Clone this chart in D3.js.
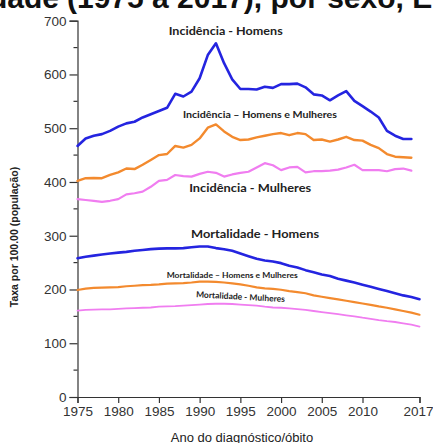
<!DOCTYPE html>
<html>
<head>
<meta charset="utf-8">
<script src="https://cdn.jsdelivr.net/npm/d3@7"></script>
<style>
  html, body { margin: 0; padding: 0; background: #fff; overflow: hidden; }
  svg { display: block; }
</style>
</head>
<body>
<svg id="chart" width="433" height="443"></svg>
<script>
// Years covered by each group of series
const incYears = d3.range(1975, 2017);   // 1975–2016
const morYears = d3.range(1975, 2018);   // 1975–2017

// Incidence rates per 100,000
const incMen = [467, 481, 486, 489, 495, 503, 509, 512, 520, 526,
                532, 538, 564, 559, 568, 593, 636, 658, 621, 591,
                573, 573, 572, 577, 575, 582, 582, 583, 576, 563,
                561, 552, 561, 569, 551, 541, 531, 520, 495, 486,
                480, 480];
const incBoth = [402, 407, 407.5, 407, 413, 418, 425, 424, 432, 441,
                 450, 452, 467, 464, 469, 481, 501, 507, 494, 484,
                 478, 479, 483, 486, 489, 491, 487, 491, 489, 478,
                 479, 475, 479, 484, 478, 477, 469, 463, 452, 447,
                 446, 445];
const incWomen = [368, 366.5, 365, 363, 365, 368, 377, 379, 382, 391,
                  402, 404, 413, 411, 410, 415, 419, 417, 410, 414,
                  417, 419, 427, 435, 431, 422, 427, 428, 418, 420,
                  420, 421, 423, 427, 432, 422, 422, 422, 420, 424,
                  425, 421];

// Mortality rates per 100,000
const morMen = [258, 261, 263, 265, 267, 268.5, 270, 272, 273.5, 275,
                276, 276.5, 276.5, 277, 278.5, 280, 280, 277, 275, 272,
                267, 262, 257, 254, 252, 249, 244, 241, 236, 232,
                228, 225, 220, 216.5, 213, 209, 205, 201, 197, 193,
                189, 186, 182];
const morBoth = [199, 201.5, 203, 203.5, 204, 204.5, 206, 207, 208, 208.5,
                 209.5, 211, 211.5, 212, 213, 214.5, 214.5, 214, 213, 211.5,
                 209.5, 207, 204, 202, 201, 199.5, 197, 195, 193, 189,
                 186.5, 184, 181.5, 179, 176.5, 174, 171.5, 168.5, 166, 163,
                 160, 157, 153];
const morWomen = [160.5, 162, 162.5, 163, 163, 164, 165, 165.5, 166, 166.5,
                  168, 168.5, 169, 170, 171, 172, 173, 173.5, 173.5, 173,
                  172, 171, 170, 168, 166.5, 166, 165, 163.5, 162, 160,
                  158, 156, 154, 152, 150, 147.5, 145.5, 143, 141, 139.5,
                  137, 134.5, 131];

// Axis ticks
const xTicks = [1975, 1980, 1985, 1990, 1995, 2000, 2005, 2010, 2017];
const yTicks = [0, 100, 200, 300, 400, 500, 600, 700];
const yMinorTicks = [50, 150, 250, 350, 450, 550, 650];

// Texts
const titleLead = "Taxa de incidência e mortalidade";
const titleTail = "(1975 a 2017), por sexo, EUA";
const yTitle = "Taxa por 100.00 (população)";
const xTitle = "Ano do diagnóstico/óbito";
const seriesNames = ["Incidência - Homens", "Incidência – Homens e Mulheres", "Incidência - Mulheres",
                     "Mortalidade - Homens", "Mortalidade – Homens e Mulheres", "Mortalidade - Mulheres"];

// ---- drawing ----
const svg = d3.select("#chart");
const x = d3.scaleLinear().domain([1975, 2017]).range([77.5, 419.5]);
const y = d3.scaleLinear().domain([0, 700]).range([397, 20.7]);

const blue = "#2424e0", orange = "#f38a2e", pink = "#f07df0";
const sans = "Liberation Sans, Arial, sans-serif";

// Title, mostly running off the top edge
svg.append("text")
  .attr("x", 59).attr("y", 7.5)
  .attr("text-anchor", "end")
  .attr("font-family", sans)
  .attr("font-weight", "bold").attr("font-size", 30).attr("fill", "#111")
  .text(titleLead);
svg.append("text")
  .attr("x", 67).attr("y", 7.5)
  .attr("font-family", sans)
  .attr("font-weight", "bold").attr("font-size", 30).attr("fill", "#111")
  .text(titleTail);

// Axes
const axisColor = "#333";
const gx = svg.append("g").attr("transform", `translate(0,${y(0)})`)
  .call(d3.axisBottom(x).tickValues(xTicks).tickFormat(d3.format("d")).tickSize(6).tickSizeOuter(6).tickPadding(3));
const gy = svg.append("g").attr("transform", `translate(${x(1975)},0)`)
  .call(d3.axisLeft(y).tickValues(yTicks).tickSize(8).tickSizeOuter(8).tickPadding(3));
gy.selectAll(".minor").data(yMinorTicks).enter().append("line")
  .attr("class", "minor")
  .attr("x1", -4).attr("x2", 0)
  .attr("y1", d => y(d)).attr("y2", d => y(d))
  .attr("stroke", axisColor).attr("stroke-width", 1.2);

[gx, gy].forEach(g => {
  g.selectAll("path, line").attr("stroke", axisColor).attr("stroke-width", 1.2);
  g.selectAll("text")
    .attr("font-family", sans)
    .attr("font-size", 13.5)
    .attr("fill", "#333");
});
// keep the last year label inside the frame
gx.selectAll(".tick text").filter(d => d === 2017).attr("dx", -1.5);

// Axis titles
svg.append("text")
  .attr("transform", `translate(18,${237}) rotate(-90)`)
  .attr("text-anchor", "middle")
  .attr("font-family", sans)
  .attr("font-weight", "bold").attr("font-size", 10.5).attr("fill", "#222")
  .text(yTitle);
svg.append("text")
  .attr("x", 242).attr("y", 442)
  .attr("text-anchor", "middle")
  .attr("font-family", sans)
  .attr("font-size", 13).attr("fill", "#222")
  .text(xTitle);

// Lines
const line = d3.line().x(d => x(d[0])).y(d => y(d[1]));
const series = [
  { years: incYears, values: incMen,   color: blue,   width: 2.6 },
  { years: incYears, values: incBoth,  color: orange, width: 2.4 },
  { years: incYears, values: incWomen, color: pink,   width: 2.2 },
  { years: morYears, values: morMen,   color: blue,   width: 2.6 },
  { years: morYears, values: morBoth,  color: orange, width: 2.2 },
  { years: morYears, values: morWomen, color: pink,   width: 1.8 }
];
svg.append("g").selectAll("path").data(series).enter().append("path")
  .attr("d", s => line(s.years.map((yr, i) => [yr, s.values[i]])))
  .attr("fill", "none")
  .attr("stroke", s => s.color)
  .attr("stroke-width", s => s.width)
  .attr("stroke-linejoin", "round")
  .attr("stroke-linecap", "round");

// Series annotations: [year, rate] anchor, font size, width, tilt
const notes = [
  { at: [1993.2, 673], size: 11.5, len: 114, rot: 0 },
  { at: [1997.4, 519], size: 9.8,  len: 154, rot: 0 },
  { at: [1996.2, 382], size: 12,   len: 122, rot: 0 },
  { at: [1996.8, 295], size: 12,   len: 128, rot: 0 },
  { at: [1994.0, 222], size: 8,    len: 131, rot: 0 },
  { at: [1995.0, 181], size: 8.5,  len: 89,  rot: 3 }
];
svg.append("g").selectAll("text").data(notes).enter().append("text")
  .attr("transform", (n) => `translate(${x(n.at[0])},${y(n.at[1])}) rotate(${n.rot})`)
  .attr("text-anchor", "middle")
  .attr("font-family", "Lato, 'Open Sans', sans-serif")
  .attr("font-weight", "bold")
  .attr("font-size", n => n.size)
  .attr("textLength", n => n.len)
  .attr("lengthAdjust", "spacingAndGlyphs")
  .attr("fill", "#222")
  .text((n, i) => seriesNames[i]);
</script>
</body>
</html>
